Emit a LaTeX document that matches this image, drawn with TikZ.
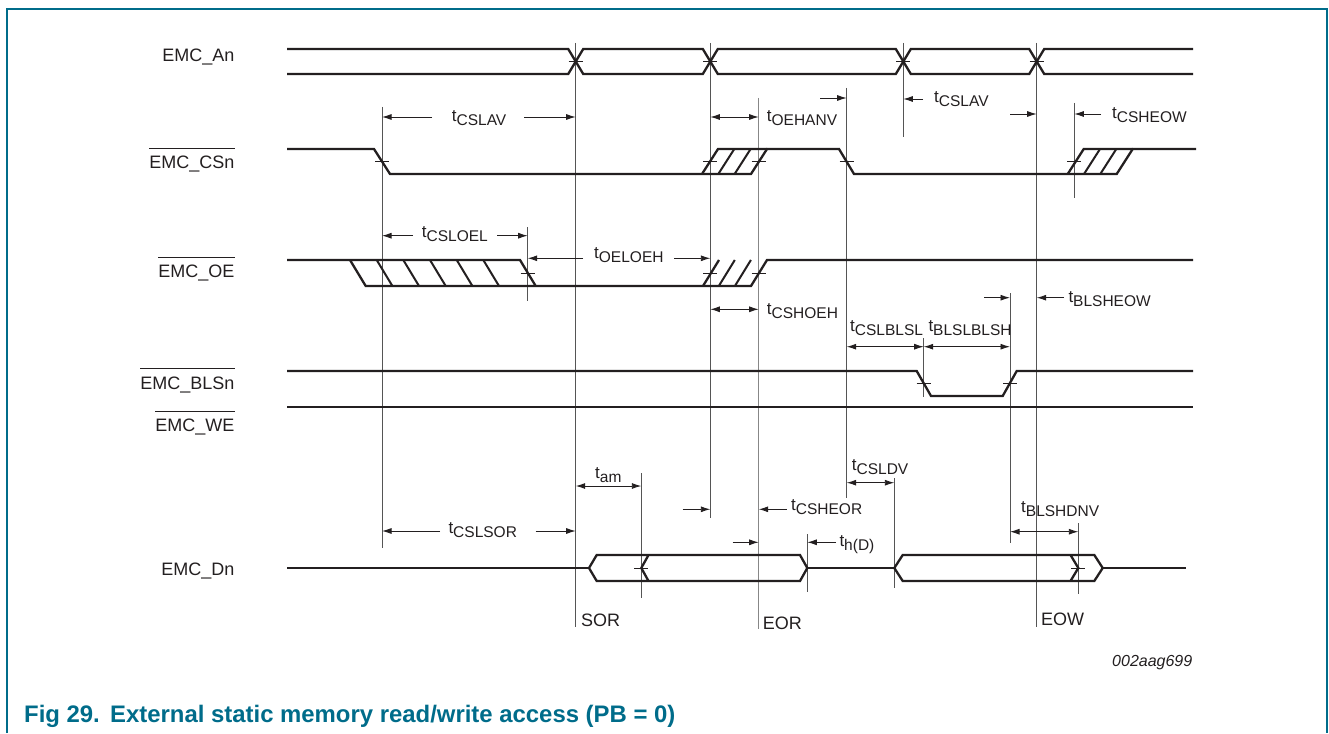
\documentclass[tikz,border=0pt]{standalone}
\usepackage{fontspec}
\setmainfont{Liberation Sans}
\usetikzlibrary{arrows.meta}
\definecolor{frameteal}{RGB}{0,108,138}
\definecolor{refgray}{RGB}{85,85,85}
\definecolor{reflight}{RGB}{135,135,135}
\definecolor{inkc}{RGB}{35,31,32}
\newcommand\tsym[1]{t\raisebox{-4pt}{\fontsize{15.5}{16}\selectfont #1}}
\begin{document}
\begin{tikzpicture}[x=1pt,y=-1pt,
  sig/.style={line width=2.3pt, draw=inkc, line join=miter, line cap=butt},
  refl/.style={line width=1pt, draw=refgray},
  refll/.style={line width=1.1pt, draw=reflight},
  tickl/.style={line width=0.8pt, draw=inkc},
  hatchl/.style={line width=2pt, draw=inkc},
  dim/.style={line width=0.9pt, draw=inkc, -{Latex[length=9.5pt,width=6pt]}},
  ddim/.style={line width=0.9pt, draw=inkc, {Latex[length=9.5pt,width=6pt]}-{Latex[length=9.5pt,width=6pt]}},
  tlab/.style={anchor=base west, inner sep=0pt, text=inkc, font=\fontsize{17}{20}\selectfont},
  sname/.style={anchor=base east, inner sep=0pt, text=inkc, font=\fontsize{18}{21}\selectfont},
  olin/.style={line width=1pt, draw=inkc},
  plain/.style={anchor=base west, inner sep=0pt, text=inkc, font=\fontsize{18}{21}\selectfont}
]
\useasboundingbox (0,0) rectangle (1329,733);
% frame
\draw[frameteal, line width=1.4pt] (7,733) -- (7,9) -- (1327,9) -- (1327,733);

% ---------- vertical reference lines ----------
\draw[refl] (382,107) -- (382,548);
\draw[refl] (575.7,43) -- (575.7,627);
\draw[refl] (710.3,43) -- (710.3,518);
\draw[refll] (758.7,98) -- (758.7,629);
\draw[refl] (846.7,88) -- (846.7,498);
\draw[refl] (903.3,43) -- (903.3,137);
\draw[refl] (1036.7,43) -- (1036.7,627);
\draw[refl] (1074.3,103) -- (1074.3,198);
\draw[refl] (527.7,227) -- (527.7,301);
\draw[refl] (923.7,338) -- (923.7,397);
\draw[refl] (1010,293) -- (1010,543);
\draw[refl] (641.3,473) -- (641.3,598);
\draw[refl] (807.3,534) -- (807.3,592);
\draw[refl] (894.3,478) -- (894.3,588);
\draw[refl] (1078.3,523) -- (1078.3,594);

% ---------- signal names ----------
\node[sname] (nAn) at (234.5,61.7) {EMC\_An};
\node[sname] (nCS) at (234.5,168.3) {EMC\_CSn};
\node[sname] (nOE) at (234.5,277.7) {EMC\_OE};
\node[sname] (nBLS) at (234.5,389) {EMC\_BLSn};
\node[sname] (nWE) at (234.5,431.7) {EMC\_WE};
\node[sname] (nDn) at (234.5,575) {EMC\_Dn};
\foreach \n in {nCS,nOE,nBLS,nWE}
  \draw[olin] ([yshift=7.5pt]\n.north west) -- ([yshift=7.5pt]\n.north east);

% ---------- EMC_An bus ----------
\draw[sig] (287,49) -- (568.2,49) -- (575.7,61.5) -- (583.2,49) -- (702.8,49) -- (710.3,61.5) -- (717.8,49)
  -- (895.8,49) -- (903.3,61.5) -- (910.8,49) -- (1029.2,49) -- (1036.7,61.5) -- (1044.2,49) -- (1193,49);
\draw[sig] (287,74) -- (568.2,74) -- (575.7,61.5) -- (583.2,74) -- (702.8,74) -- (710.3,61.5) -- (717.8,74)
  -- (895.8,74) -- (903.3,61.5) -- (910.8,74) -- (1029.2,74) -- (1036.7,61.5) -- (1044.2,74) -- (1193,74);

% ---------- EMC_CSn ----------
\draw[sig] (287,149) -- (374,149) -- (390,174) -- (751,174) -- (767,149) -- (839,149) -- (854,174)
  -- (1116.7,174) -- (1132.7,149) -- (1196,149);
\draw[sig] (702,174) -- (718,149) -- (767,149);
\draw[hatchl] (718.3,174) -- (734.3,149);
\draw[hatchl] (734.6,174) -- (750.6,149);
\draw[sig] (1067.7,174) -- (1083.7,149) -- (1132.7,149);
\draw[hatchl] (1084,174) -- (1100,149);
\draw[hatchl] (1100.3,174) -- (1116.3,149);

% ---------- EMC_OE ----------
\draw[sig] (287,260) -- (520,260) -- (535.7,286);
\draw[sig] (350,260) -- (365.7,286) -- (751,286) -- (767,260) -- (1193,260);
\foreach \x in {376.7,403.3,430,456.7,483.3}
  \draw[hatchl] (\x,260) -- (\x+15.7,286);
\draw[sig] (703,286) -- (719,260);
\draw[hatchl] (718.8,286) -- (734.8,260);
\draw[hatchl] (734.9,286) -- (750.9,260);

% ---------- EMC_BLSn / EMC_WE ----------
\draw[sig] (287,371) -- (916.7,371) -- (931,396) -- (1002.7,396) -- (1016.7,371) -- (1193,371);
\draw[sig] (287,407) -- (1193,407);

% ---------- EMC_Dn ----------
\draw[sig] (287,568) -- (589,568);
\draw[sig] (589,568) -- (596.7,555) -- (800,555) -- (807.3,568) -- (800,581) -- (596.7,581) -- cycle;
\draw[sig] (648.5,555) -- (641.3,568) -- (648.5,581);
\draw[sig] (807.3,568) -- (894.3,568);
\draw[sig] (894.3,568) -- (902.7,555) -- (1094.3,555) -- (1102.7,568) -- (1094.3,581) -- (902.7,581) -- cycle;
\draw[sig] (1070.5,555) -- (1078.3,568) -- (1070.5,581);
\draw[sig] (1102.7,568) -- (1186,568);

% ---------- ticks ----------
\foreach \x/\y in {575.7/61.5, 710.3/61.5, 903.3/61.5, 1036.7/61.5,
  382/161.5, 710.3/161.5, 758.7/161.5, 846.7/161.5, 1074.3/161.5,
  527.7/273, 710.3/273, 758.7/273, 923.7/383.5, 1010/383.5, 641.3/568, 1078.3/568}
  \draw[tickl] (\x-7,\y) -- (\x+7,\y);

% ---------- timing labels ----------
\node[tlab] (lCSLAVa) at (451.7,121.7) {\tsym{CSLAV}};
\node[tlab] (lOEHANV) at (766.7,121.7) {\tsym{OEHANV}};
\node[tlab] (lCSLAVb) at (934,102.5) {\tsym{CSLAV}};
\node[tlab] (lCSHEOW) at (1112,118.3) {\tsym{CSHEOW}};
\node[tlab] (lCSLOEL) at (421.7,237.3) {\tsym{CSLOEL}};
\node[tlab] (lOELOEH) at (594,258.3) {\tsym{OELOEH}};
\node[tlab] (lCSHOEH) at (766.7,314) {\tsym{CSHOEH}};
\node[tlab] (lBLSHEOW) at (1068.3,302.7) {\tsym{BLSHEOW}};
\node[tlab] (lCSLBLSL) at (850,331.7) {\tsym{CSLBLSL}};
\node[tlab] (lBLSLBLSH) at (928.3,331.7) {\tsym{BLSLBLSH}};
\node[tlab] (lam) at (595,478.3) {\tsym{am}};
\node[tlab] (lCSLDV) at (851.7,470.7) {\tsym{CSLDV}};
\node[tlab] (lCSHEOR) at (791,510.7) {\tsym{CSHEOR}};
\node[tlab] (lhD) at (839.3,546.7) {\tsym{h(D)}};
\node[tlab] (lCSLSOR) at (448.3,533.3) {\tsym{CSLSOR}};
\node[tlab] (lBLSHDNV) at (1021,512.3) {\tsym{BLSHDNV}};

% ---------- dimension arrows ----------
\draw[dim] (432,117) -- (382,117);
\draw[dim] (524,117) -- (575.7,117);
\draw[ddim] (710.3,117) -- (758.7,117);
\draw[dim] (820,98) -- (846.7,98);
\draw[dim] (923,99) -- (903.3,99);
\draw[dim] (1010,114) -- (1036.7,114);
\draw[dim] (1101,114) -- (1074.3,114);
\draw[dim] (413,235.7) -- (382,235.7);
\draw[dim] (497,235.7) -- (527.7,235.7);
\draw[dim] (583,258.3) -- (527.7,258.3);
\draw[dim] (674,258.3) -- (710.3,258.3);
\draw[ddim] (710.3,309.3) -- (758.7,309.3);
\draw[dim] (984,297.7) -- (1010,297.7);
\draw[dim] (1064,297.7) -- (1036.7,297.7);
\draw[ddim] (846.7,346.7) -- (923.7,346.7);
\draw[ddim] (923.7,346.7) -- (1010,346.7);
\draw[ddim] (575.7,486) -- (641.3,486);
\draw[ddim] (846.7,482.7) -- (894.3,482.7);
\draw[dim] (682.7,509.3) -- (710.3,509.3);
\draw[dim] (786.7,509.3) -- (758.7,509.3);
\draw[dim] (732.7,542.3) -- (758.7,542.3);
\draw[dim] (836,542.3) -- (807.3,542.3);
\draw[dim] (440,531) -- (382,531);
\draw[dim] (535.7,531) -- (575.7,531);
\draw[ddim] (1010,531.7) -- (1078.3,531.7);

% ---------- event labels ----------
\node[plain] (lSOR) at (581,626.7) {SOR};
\node[plain] (lEOR) at (762.7,629) {EOR};
\node[plain] (lEOW) at (1041,625.7) {EOW};
\node[anchor=base west, inner sep=0pt, text=inkc, font=\itshape\fontsize{16}{18}\selectfont] (code) at (1112,666) {002aag699};

% ---------- caption ----------
\node[anchor=base west, inner sep=0pt, text=frameteal, font=\bfseries\fontsize{23.9}{26}\selectfont] (capnum) at (24,722) {Fig 29.};
\node[anchor=base west, inner sep=0pt, text=frameteal, font=\bfseries\fontsize{23.9}{26}\selectfont] (captext) at (110,722) {External static memory read/write access (PB = 0)};
\end{tikzpicture}
\end{document}
